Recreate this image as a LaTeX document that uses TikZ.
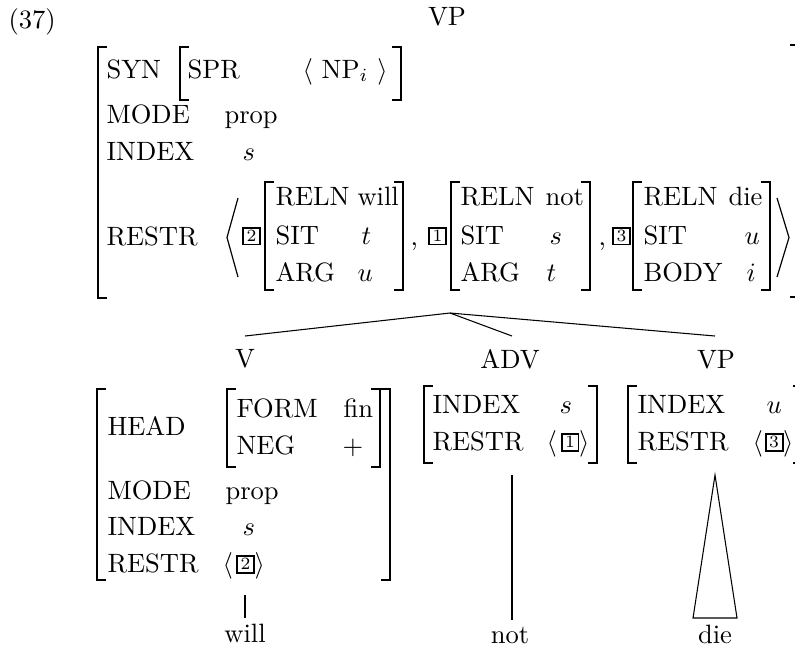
\documentclass[tikz,border=0pt]{standalone}
\newcommand{\lbrkt}[3]{\draw[brk] (#1+9,#2) -- (#1,#2) -- (#1,#3) -- (#1+9,#3);}
\newcommand{\rbrkt}[3]{\draw[brk] (#1-9,#2) -- (#1,#2) -- (#1,#3) -- (#1-9,#3);}
\tikzset{
  lab/.style={anchor=base west, inner sep=0pt, font=\fontsize{10}{12}\selectfont},
  labc/.style={anchor=base, inner sep=0pt, font=\fontsize{10}{12}\selectfont},
  brk/.style={line width=0.65pt, line cap=butt},
  angl/.style={line width=0.45pt},
  tagbox/.style={draw, line width=0.75pt, inner sep=0pt, minimum width=6.4pt, minimum height=6.4pt, font=\fontsize{6.5}{7}\selectfont},
  edge/.style={line width=0.4pt}
}
\begin{document}
\begin{tikzpicture}[x=0.377pt,y=-0.377pt]
\useasboundingbox (0,0) rectangle (795,647);
\begin{scope}
\clip (0,0) rectangle (795,647);
% ---------- top VP ----------
\node[lab] (ex) at (8,28) {(37)};
\node[labc] (VPtop) at (447,25) {VP};
% outer brackets
\lbrkt{98}{47}{298}
\rbrkt{799}{45}{297}
% SYN
\node[lab] (syn) at (106,78) {SYN};
\lbrkt{180}{47}{100}
\rbrkt{401}{47}{100}
\node[lab] (spr) at (187,78) {SPR};
\node[lab] (np) at (302,78) {$\langle\ \mathrm{NP}_i\ \rangle$};
\node[lab] (mode) at (106,123) {MODE};
\node[lab] (prop) at (224,123) {prop};
\node[lab] (index) at (106,160) {INDEX};
\node[lab] (ind) at (242,160) {$s$};
\node[lab] (restr) at (106,245) {RESTR};
% big angles
\draw[angl] (238,198) -- (227,237.5) -- (238,277);
\draw[angl] (777,198) -- (789,237.5) -- (777,277);
% tag 2 + AVM1
\node[tagbox] (t2) at (251.5,236) {2};
\lbrkt{265}{182}{290}
\rbrkt{403}{182}{290}
\node[lab] (r1) at (275,205) {RELN};
\node[lab] (r1v) at (357,205) {will};
\node[lab] (s1) at (275,244) {SIT};
\node[lab] (s1v) at (361,244) {$t$};
\node[lab] (a1) at (275,281) {ARG};
\node[lab] (a1v) at (357,281) {$u$};
\node[lab] (c1) at (410,245) {,};
% tag 1 + AVM2
\node[tagbox] (t1) at (437.5,236) {1};
\lbrkt{451}{182}{290}
\rbrkt{590}{182}{290}
\node[lab] (r2) at (460,205) {RELN};
\node[lab] (r2v) at (545,205) {not};
\node[lab] (s2) at (460,244) {SIT};
\node[lab] (s2v) at (549,244) {$s$};
\node[lab] (a2) at (460,281) {ARG};
\node[lab] (a2v) at (546,281) {$t$};
\node[lab] (c2) at (598,245) {,};
% tag 3 + AVM3
\node[tagbox] (t3) at (621.5,236) {3};
\lbrkt{633}{182}{290}
\rbrkt{770}{182}{290}
\node[lab] (r3) at (643,205) {RELN};
\node[lab] (r3v) at (728,205) {die};
\node[lab] (s3) at (643,244) {SIT};
\node[lab] (s3v) at (744,244) {$u$};
\node[lab] (b3) at (643,281) {BODY};
\node[lab] (b3v) at (746,281) {$i$};
% ---------- branches ----------
\coordinate (topbot) at (450,313);
\coordinate (Vtop) at (245,336);
\coordinate (ADVtop) at (512,336);
\coordinate (VPtop2) at (715,336);
\draw[edge] (topbot) -- (Vtop);
\draw[edge] (topbot) -- (ADVtop);
\draw[edge] (topbot) -- (VPtop2);
% ---------- V ----------
\node[labc] (V) at (245,367) {V};
\lbrkt{97}{389}{580}
\rbrkt{390}{389}{580}
\node[lab] (head) at (107,435) {HEAD};
\lbrkt{227}{389}{467}
\rbrkt{380}{389}{467}
\node[lab] (form) at (236,417) {FORM};
\node[lab] (fin) at (343,417) {fin};
\node[lab] (neg) at (236,454) {NEG};
\node[labc] (plus) at (353,454) {$+$};
\node[lab] (vmode) at (107,499) {MODE};
\node[lab] (vprop) at (225,499) {prop};
\node[lab] (vindex) at (107,535) {INDEX};
\node[lab] (vind) at (242,535) {$s$};
\node[lab] (vrestr) at (107,572) {RESTR};
\node[lab] (vla) at (222,572) {$\langle$};
\node[tagbox] (vt2) at (245.5,564) {2};
\node[lab] (vra) at (254,572) {$\rangle$};
% ---------- ADV ----------
\node[labc] (ADV) at (510,368) {ADV};
\lbrkt{424}{386}{463}
\rbrkt{597}{386}{463}
\node[lab] (aindex) at (432,413) {INDEX};
\node[lab] (aind) at (559,413) {$s$};
\node[lab] (arestr) at (432,450) {RESTR};
\node[lab] (ala) at (546,450) {$\langle$};
\node[tagbox] (at1) at (570,442) {1};
\node[lab] (ara) at (578.5,450) {$\rangle$};
% ---------- VP ----------
\node[labc] (VPc) at (716,368) {VP};
\lbrkt{628}{386}{463}
\rbrkt{802}{386}{463}
\node[lab] (pindex) at (637,413) {INDEX};
\node[lab] (pind) at (766,413) {$u$};
\node[lab] (prestr) at (637,450) {RESTR};
\node[lab] (pla) at (752,450) {$\langle$};
\node[tagbox] (pt3) at (774,442) {3};
\node[lab] (pra) at (782.5,450) {$\rangle$};
% ---------- leaves ----------
\coordinate (Vbot) at (245,595);
\coordinate (willtop) at (245,618);
\draw[edge] (Vbot) -- (willtop);
\node[labc] (will) at (245,642) {will};
\coordinate (ADVbot) at (512,475);
\coordinate (nottop) at (512,620);
\draw[edge] (ADVbot) -- (nottop);
\node[labc] (not) at (510,643) {not};
\coordinate (VPbot) at (715,475);
\coordinate (dieL) at (693,618);
\coordinate (dieR) at (737,618);
\draw[edge] (VPbot) -- (dieL) -- (dieR) -- cycle;
\node[labc] (die) at (715,643) {die};
\end{scope}
\end{tikzpicture}
\end{document}
